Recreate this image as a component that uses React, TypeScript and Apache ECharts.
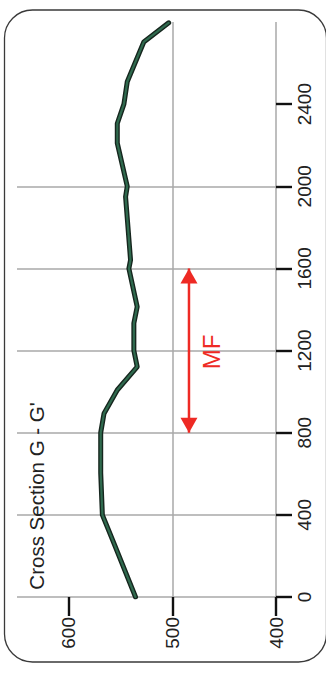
import React, { useEffect, useRef } from "react";
import * as echarts from "echarts";

// Profile: distance along section (m) and elevation (m)
const distances = [0, 261, 400, 604, 800, 894, 1008, 1121, 1200, 1333, 1413, 1600, 1641, 1949, 2000, 2210, 2306, 2400, 2509, 2703, 2796];
const elevations = [535.6, 556.4, 567.6, 569.2, 569.2, 566, 553.2, 534, 537.2, 537.2, 534, 542, 540.4, 545.2, 543.6, 553.2, 553.2, 546.8, 543.6, 527.6, 503.6];
const distanceTicks = [0, 400, 800, 1200, 1600, 2000, 2400];
const elevationTicks = [400, 500, 600];
const faultZone = [800, 1600];
const faultElevation = 484;
const titleText = "Cross Section G - G'";
const faultLabel = "MF";

const FONT = "'Liberation Sans', Arial, Helvetica, sans-serif";

export default function App() {
  const ref = useRef<HTMLDivElement>(null);
  useEffect(() => {
    if (!ref.current) return;
    const chart = echarts.init(ref.current, undefined, { renderer: "svg" });
    const profile = distances.map((d, i) => [elevations[i], d]);
    const arrow = [
      {
        value: [faultElevation, faultZone[0]],
        symbolRotate: 180,
        symbolOffset: [0, -7.5],
      },
      {
        value: [faultElevation, faultZone[1]],
        symbolRotate: 0,
        symbolOffset: [0, 7.5],
      },
    ];
    chart.setOption({
      animation: false,
      backgroundColor: "#ffffff",
      grid: { left: 17, right: 50, top: 22, bottom: 77, containLabel: false },
      xAxis: {
        type: "value",
        position: "bottom",
        inverse: true,
        min: 400,
        max: 650,
        interval: 100,
        axisLine: { show: false },
        axisTick: {
          show: true,
          length: 19,
          customValues: elevationTicks,
          lineStyle: { color: "#111111", width: 2.4 },
        },
        axisLabel: {
          show: true,
          rotate: 90,
          margin: 20,
          customValues: elevationTicks,
          formatter: (v: number) => String(v),
          fontFamily: FONT,
          fontSize: 19,
          color: "#222",
        },
        splitLine: {
          show: true,
          showMaxLine: false,
          lineStyle: { color: "#a8a8a8", width: 1.5 },
        },
      },
      yAxis: {
        type: "value",
        position: "right",
        min: 0,
        max: 2800,
        interval: 400,
        axisLine: { show: false },
        axisTick: {
          show: true,
          length: 16,
          customValues: distanceTicks,
          lineStyle: { color: "#111111", width: 2.4 },
        },
        axisLabel: {
          show: true,
          rotate: 90,
          margin: 19,
          customValues: distanceTicks,
          formatter: (v: number) => String(v),
          fontFamily: FONT,
          fontSize: 19,
          color: "#222",
        },
        splitLine: {
          show: true,
          showMaxLine: false,
          lineStyle: { color: "#a8a8a8", width: 1.5 },
        },
      },
      series: [
        {
          type: "line",
          data: profile,
          showSymbol: false,
          symbol: "none",
          lineStyle: { color: "#16261e", width: 5, join: "round", cap: "round" },
          z: 3,
        },
        {
          type: "line",
          data: profile,
          showSymbol: false,
          symbol: "none",
          lineStyle: { color: "#2f6a4e", width: 2.2, join: "round", cap: "round" },
          z: 4,
        },
        {
          type: "line",
          data: arrow,
          symbol: "triangle",
          symbolSize: [17, 15],
          showSymbol: true,
          itemStyle: { color: "#ee2a24" },
          lineStyle: { color: "#ee2a24", width: 2.5 },
          z: 5,
        },
      ],
      graphic: [
        {
          type: "rect",
          shape: { x: 4.5, y: 10, width: 322, height: 652, r: 28 },
          style: { fill: "none", stroke: "#3a3a3a", lineWidth: 1.3 },
          silent: true,
          z: 1,
        },
        {
          type: "text",
          x: 36.5,
          y: 496,
          rotation: Math.PI / 2,
          style: {
            text: titleText,
            fontFamily: FONT,
            fontSize: 20.5,
            fill: "#222",
            textAlign: "center",
            textVerticalAlign: "middle",
          },
          z: 10,
        },
        {
          type: "text",
          x: 211,
          y: 352,
          rotation: Math.PI / 2,
          style: {
            text: faultLabel,
            fontFamily: FONT,
            fontSize: 24,
            fill: "#ee2a24",
            textAlign: "center",
            textVerticalAlign: "middle",
          },
          z: 10,
        },
      ],
    });
    return () => chart.dispose();
  }, []);
  return (
    <div
      ref={ref}
      style={{ position: "fixed", left: 0, top: 0, width: 326, height: 674 }}
    />
  );
}
